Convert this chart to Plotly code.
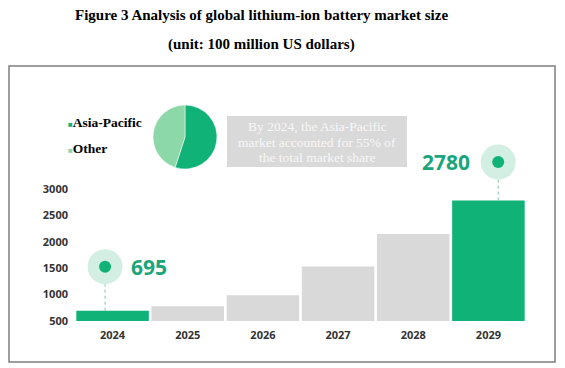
import plotly.graph_objects as go

# ---- data ----
years = ["2024", "2025", "2026", "2027", "2028", "2029"]
market_size = [695, 780, 990, 1530, 2150, 2780]
highlight_years = ["2024", "2029"]
pie_labels = ["Asia-Pacific", "Other"]
pie_shares = [55, 45]
y_ticks = [500, 1000, 1500, 2000, 2500, 3000]
title_lines = ["Figure 3 Analysis of global lithium-ion battery market size",
               "(unit: 100 million US dollars)"]
note_lines = ["By 2024, the Asia-Pacific", "market accounted for 55% of", "the total market share"]

# ---- style ----
GREEN = "#10b278"
LIGHT_GREEN = "#8dd8a9"
HALO = "#d3eee2"
GRAY = "#d9d9d9"
W, H = 565, 368
L, R, T, B = 75, 526, 75, 321
UPP = 2500 / 132.0  # data units per pixel
y_top = 500 + (B - T) * UPP


def px_x(x):
    return (x - L) / (R - L)


def px_y(y):
    return (B - y) / (B - T)


xi = list(range(len(years)))
colors = [GREEN if y in highlight_years else GRAY for y in years]

fig = go.Figure()
fig.add_trace(go.Bar(x=xi, y=market_size, marker=dict(color=colors, line=dict(width=0)),
                     hoverinfo="skip", showlegend=False))

fig.add_trace(go.Pie(labels=pie_labels, values=pie_shares, sort=False, direction="clockwise",
                     rotation=0, textinfo="none", showlegend=False,
                     marker=dict(colors=[GREEN, LIGHT_GREEN], line=dict(color="white", width=0.5)),
                     domain=dict(x=[px_x(153), px_x(217)], y=[px_y(169), px_y(105)])))

# highlighted value markers
marks = [  # (year, x offset in categories, circle offset above bar in px, text side)
    ("2024", -0.10, 44, "right"),
    ("2029", 0.13, 38.6, "left"),
]
shapes = []
annotations = []
for yr, dx, dpx, side in marks:
    i = years.index(yr)
    v = market_size[i]
    cx = i + dx
    cy = v + dpx * UPP
    fig.add_trace(go.Scatter(x=[cx], y=[cy], mode="markers",
                             marker=dict(size=35, color=HALO, line=dict(width=0)),
                             cliponaxis=False, hoverinfo="skip", showlegend=False))
    fig.add_trace(go.Scatter(x=[cx], y=[cy], mode="markers",
                             marker=dict(size=12, color=GREEN, line=dict(width=0)),
                             cliponaxis=False, hoverinfo="skip", showlegend=False))
    shapes.append(dict(type="line", xref="x", yref="y", x0=cx, x1=cx, y0=v,
                       y1=cy - 17.5 * UPP, line=dict(color="#7cc9a6", width=1, dash="dot")))
    if side == "right":
        annotations.append(dict(x=cx, y=cy, xref="x", yref="y", text=f"{v}", showarrow=False,
                                xanchor="left", yanchor="middle", xshift=24,
                                font=dict(family="Open Sans", size=21, color="#1aa57a", weight="bold")))
    else:
        annotations.append(dict(x=cx, y=cy, xref="x", yref="y", text=f"{v}", showarrow=False,
                                xanchor="right", yanchor="middle", xshift=-26,
                                font=dict(family="Open Sans", size=21, color="#1aa57a", weight="bold")))

# frame
shapes.append(dict(type="rect", xref="paper", yref="paper", x0=px_x(9), x1=px_x(555),
                   y0=px_y(362), y1=px_y(66), line=dict(color="#7f7f7f", width=1.5),
                   fillcolor="rgba(0,0,0,0)", layer="below"))
# note box
shapes.append(dict(type="rect", xref="paper", yref="paper", x0=px_x(227), x1=px_x(407),
                   y0=px_y(167), y1=px_y(116), line=dict(width=0), fillcolor="#d9d9d9",
                   layer="below"))
for line, ypx in zip(note_lines, [126.5, 142, 157.5]):
    annotations.append(dict(x=px_x(317), y=px_y(ypx), xref="paper", yref="paper",
                            text=line, showarrow=False, align="center",
                            xanchor="center", yanchor="middle",
                            font=dict(family="Liberation Serif", size=13.5, color="#f7f7f7")))

# titles
for line, ypx in zip(title_lines, [15, 45]):
    annotations.append(dict(x=px_x(261), y=px_y(ypx), xref="paper", yref="paper", text=f"<b>{line}</b>",
                            showarrow=False, xanchor="center", yanchor="middle",
                            font=dict(family="Liberation Serif", size=15, color="black")))

# pie legend
for lab, col, ypx in zip(pie_labels, [GREEN, LIGHT_GREEN], [122, 148]):
    annotations.append(dict(x=px_x(66), y=px_y(ypx), xref="paper", yref="paper",
                            text=f"<span style='color:{col};font-size:8px'>■</span><b>{lab}</b>",
                            showarrow=False, xanchor="left", yanchor="middle",
                            font=dict(family="Liberation Serif", size=13.5, color="black")))

fig.update_layout(
    width=W, height=H, margin=dict(l=L, r=W - R, t=T, b=H - B, pad=0),
    paper_bgcolor="white", plot_bgcolor="white", bargap=0.035,
    shapes=shapes, annotations=annotations, showlegend=False,
    xaxis=dict(range=[-0.5, len(years) - 0.5], tickvals=xi, ticktext=years, showgrid=False,
               zeroline=False, showline=False, ticks="", automargin=False, fixedrange=True,
               ticklabelstandoff=6,
               tickfont=dict(family="Open Sans", size=11, color="#333333", weight="bold")),
    yaxis=dict(range=[500, y_top], tickvals=y_ticks, showgrid=False, zeroline=False,
               showline=False, ticks="", automargin=False, ticklabelstandoff=6, fixedrange=True,
               tickfont=dict(family="Open Sans", size=11, color="#333333", weight="bold")),
)

fig.write_html("out.html", config={"displayModeBar": False},
               post_script="document.body.style.margin='0';")
